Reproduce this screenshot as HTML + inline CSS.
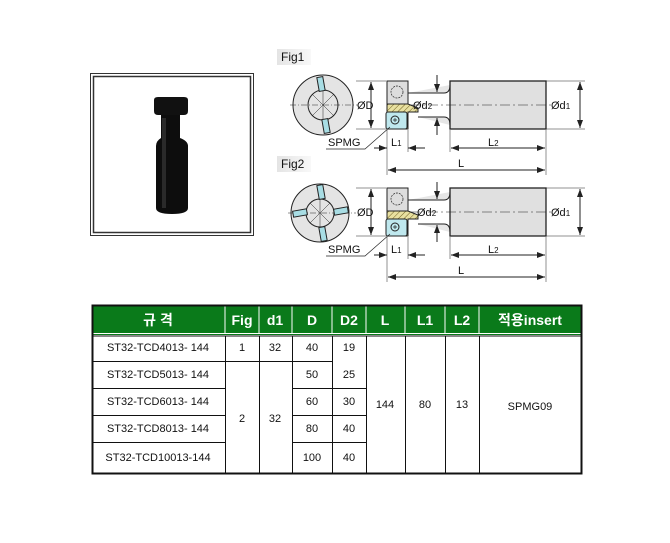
<!DOCTYPE html>
<html><head><meta charset="utf-8"><style>
html,body{margin:0;padding:0;background:#fff;}
svg{display:block;font-family:"Liberation Sans","Noto Sans CJK KR",sans-serif;}
</style></head><body>
<svg width="670" height="543" viewBox="0 0 670 543" xmlns="http://www.w3.org/2000/svg">
<defs>
<linearGradient id="lg" x1="0" x2="1"><stop offset="0" stop-color="#e4e4e4"/><stop offset="1" stop-color="#f8f8f8"/></linearGradient>
<pattern id="hat" width="4" height="4" patternUnits="userSpaceOnUse" patternTransform="rotate(45)"><rect width="4" height="4" fill="#e8e0a0"/><line x1="0" y1="0" x2="0" y2="4" stroke="#706020" stroke-width="1"/></pattern>
<marker id="a" markerWidth="8" markerHeight="6" refX="8" refY="3" orient="auto-start-reverse" markerUnits="userSpaceOnUse"><path d="M0,0 L8,3 L0,6 z" fill="#222"/></marker>
</defs>

<!-- photo box -->
<rect x="90.5" y="73.5" width="163" height="162" fill="#fff" stroke="#333" stroke-width="1"/>
<rect x="93.5" y="76.5" width="157" height="156" fill="#fff" stroke="#333" stroke-width="1.5"/>
<path d="M154,100 Q154,97 158,97 L184,97 Q188,97 188,100 L188,111 Q188,115 184,115 L158,115 Q154,115 154,111 Z" fill="#111"/>
<path d="M161,115 L180,115 L180,138 Q188,141 188,146 L188,208 Q188,214 172,214 Q156,214 156,208 L156,146 Q156,141 161,138 Z" fill="#0d0d0d"/>
<rect x="162" y="118" width="4" height="90" fill="#2a2a2a"/>

<!-- Fig labels -->
<rect x="277" y="49" width="34" height="16" fill="url(#lg)"/>
<text x="281" y="61" font-size="12" fill="#111">Fig1</text>
<rect x="277" y="156" width="34" height="16" fill="url(#lg)"/>
<text x="281" y="168" font-size="12" fill="#111">Fig2</text>

<g id="fig1" stroke="#222" fill="none" stroke-width="1">
 <circle cx="323" cy="105" r="30" fill="#e4e4e4"/>
 <circle cx="323" cy="105" r="15" fill="#e4e4e4"/>
 <line x1="290" y1="105" x2="358" y2="105" stroke-dasharray="6,2,1,2" stroke-width="0.6"/>
 <line x1="323" y1="90" x2="323" y2="120" stroke-width="0.5"/>
 <line x1="312" y1="94" x2="334" y2="116" stroke-width="0.5"/>
 <line x1="334" y1="94" x2="312" y2="116" stroke-width="0.5"/>
 <rect x="318" y="77" width="6" height="14" fill="#a8dde4" transform="rotate(-10 321 84)"/>
 <rect x="323" y="119" width="6" height="14" fill="#a8dde4" transform="rotate(-10 326 126)"/>
 <line x1="356" y1="81" x2="386" y2="81" stroke-width="0.5"/>
 <line x1="356" y1="129" x2="386" y2="129" stroke-width="0.5"/>
 <line x1="371" y1="82" x2="371" y2="128" marker-start="url(#a)" marker-end="url(#a)"/>
 <!-- head -->
 <rect x="387" y="81" width="21" height="23" fill="#ddd"/>
 <circle cx="397" cy="92" r="6" stroke-dasharray="2,1" stroke-width="0.7"/>
 <path d="M387,104 L408,104 L418,108 L418,112 L408,112 L408,129 L387,129 Z" fill="url(#hat)"/>
 <rect x="386" y="112" width="21" height="17" rx="2" fill="#bfe8ee"/>
 <circle cx="395" cy="120" r="4"/>
 <path d="M393,120 h4 M395,118 v4" stroke-width="0.7"/>
 <!-- neck & body -->
 <path d="M408,93 L444,93 Q450,93 450,85 M418,117 L444,117 Q450,117 450,125" fill="#e6e6e6"/>
 <rect x="450" y="81" width="96" height="48" fill="#e0e0e0" stroke-width="1.3"/>
 <line x1="410" y1="105" x2="552" y2="105" stroke-dasharray="10,3,2,3" stroke-width="0.6"/>
 <line x1="437" y1="75" x2="437" y2="92" marker-end="url(#a)"/>
 <line x1="437" y1="135" x2="437" y2="118" marker-end="url(#a)"/>
 <line x1="546" y1="81" x2="585" y2="81" stroke-width="0.5"/>
 <line x1="546" y1="129" x2="585" y2="129" stroke-width="0.5"/>
 <line x1="580" y1="82" x2="580" y2="128" marker-start="url(#a)" marker-end="url(#a)"/>
 <!-- dims -->
 <line x1="387" y1="130" x2="387" y2="175" stroke-width="0.5"/>
 <line x1="408" y1="130" x2="408" y2="152" stroke-width="0.5"/>
 <line x1="450" y1="130" x2="450" y2="152" stroke-width="0.5"/>
 <line x1="546" y1="130" x2="546" y2="175" stroke-width="0.5"/>
 <line x1="374" y1="148" x2="387" y2="148" marker-end="url(#a)"/>
 <line x1="425" y1="148" x2="408" y2="148" marker-end="url(#a)"/>
 <line x1="451" y1="148" x2="545" y2="148" marker-start="url(#a)" marker-end="url(#a)"/>
 <line x1="388" y1="170" x2="545" y2="170" marker-start="url(#a)" marker-end="url(#a)"/>
 <path d="M326,149 L365,149 L390,127" stroke-width="0.7"/>
</g>
<g font-size="11" fill="#111">
 <text x="357" y="109">ØD</text>
 <text x="413" y="109" font-size="11">Ød<tspan font-size="8">2</tspan></text>
 <text x="551" y="109">Ød<tspan font-size="8">1</tspan></text>
 <text x="328" y="146">SPMG</text>
 <text x="391" y="146">L<tspan font-size="8">1</tspan></text>
 <text x="488" y="146">L<tspan font-size="8">2</tspan></text>
 <text x="458" y="167">L</text>
</g>

<g id="fig2" stroke="#222" fill="none" stroke-width="1">
 <circle cx="320" cy="213" r="29" fill="#e4e4e4"/>
 <circle cx="320" cy="213" r="14" fill="#e4e4e4"/>
 <line x1="288" y1="213" x2="356" y2="213" stroke-dasharray="6,2,1,2" stroke-width="0.6"/>
 <line x1="320" y1="199" x2="320" y2="227" stroke-width="0.5"/>
 <line x1="310" y1="203" x2="330" y2="223" stroke-width="0.5"/>
 <line x1="330" y1="203" x2="310" y2="223" stroke-width="0.5"/>
 <rect x="318" y="185" width="6" height="14" fill="#a8dde4" transform="rotate(-10 321 192)"/>
 <rect x="320" y="227" width="6" height="14" fill="#a8dde4" transform="rotate(-10 323 234)"/>
 <rect x="293" y="210" width="14" height="6" fill="#a8dde4" transform="rotate(-10 300 213)"/>
 <rect x="334" y="208" width="14" height="6" fill="#a8dde4" transform="rotate(-10 341 211)"/>
 <line x1="356" y1="188" x2="386" y2="188" stroke-width="0.5"/>
 <line x1="356" y1="236" x2="386" y2="236" stroke-width="0.5"/>
 <line x1="371" y1="189" x2="371" y2="235" marker-start="url(#a)" marker-end="url(#a)"/>
 <rect x="387" y="188" width="21" height="23" fill="#ddd"/>
 <circle cx="397" cy="199" r="6" stroke-dasharray="2,1" stroke-width="0.7"/>
 <path d="M387,211 L408,211 L418,215 L418,219 L408,219 L408,236 L387,236 Z" fill="url(#hat)"/>
 <rect x="386" y="219" width="21" height="17" rx="2" fill="#bfe8ee"/>
 <circle cx="395" cy="227" r="4"/>
 <path d="M393,227 h4 M395,225 v4" stroke-width="0.7"/>
 <path d="M408,200 L444,200 Q450,200 450,192 M418,224 L444,224 Q450,224 450,232" fill="#e6e6e6"/>
 <rect x="450" y="188" width="96" height="48" fill="#e0e0e0" stroke-width="1.3"/>
 <line x1="410" y1="212" x2="552" y2="212" stroke-dasharray="10,3,2,3" stroke-width="0.6"/>
 <line x1="437" y1="182" x2="437" y2="199" marker-end="url(#a)"/>
 <line x1="437" y1="242" x2="437" y2="225" marker-end="url(#a)"/>
 <line x1="546" y1="188" x2="585" y2="188" stroke-width="0.5"/>
 <line x1="546" y1="236" x2="585" y2="236" stroke-width="0.5"/>
 <line x1="580" y1="189" x2="580" y2="235" marker-start="url(#a)" marker-end="url(#a)"/>
 <line x1="387" y1="237" x2="387" y2="282" stroke-width="0.5"/>
 <line x1="408" y1="237" x2="408" y2="259" stroke-width="0.5"/>
 <line x1="450" y1="237" x2="450" y2="259" stroke-width="0.5"/>
 <line x1="546" y1="237" x2="546" y2="282" stroke-width="0.5"/>
 <line x1="374" y1="255" x2="387" y2="255" marker-end="url(#a)"/>
 <line x1="425" y1="255" x2="408" y2="255" marker-end="url(#a)"/>
 <line x1="451" y1="255" x2="545" y2="255" marker-start="url(#a)" marker-end="url(#a)"/>
 <line x1="388" y1="277" x2="545" y2="277" marker-start="url(#a)" marker-end="url(#a)"/>
 <path d="M326,256 L365,256 L390,234" stroke-width="0.7"/>
</g>
<g font-size="11" fill="#111">
 <text x="357" y="216">ØD</text>
 <text x="417" y="216">Ød<tspan font-size="8">2</tspan></text>
 <text x="551" y="216">Ød<tspan font-size="8">1</tspan></text>
 <text x="328" y="253">SPMG</text>
 <text x="391" y="253">L<tspan font-size="8">1</tspan></text>
 <text x="488" y="253">L<tspan font-size="8">2</tspan></text>
 <text x="458" y="274">L</text>
</g>

<!-- table -->
<rect x="92" y="305" width="490" height="28" fill="#0a7a1a"/>
<g stroke="#fff" stroke-width="1">
 <line x1="225" y1="305" x2="225" y2="333"/><line x1="259" y1="305" x2="259" y2="333"/>
 <line x1="292" y1="305" x2="292" y2="333"/><line x1="332" y1="305" x2="332" y2="333"/>
 <line x1="366" y1="305" x2="366" y2="333"/><line x1="405" y1="305" x2="405" y2="333"/>
 <line x1="445" y1="305" x2="445" y2="333"/><line x1="479" y1="305" x2="479" y2="333"/>
</g>
<line x1="92" y1="334.5" x2="582" y2="334.5" stroke="#0a7a1a" stroke-width="1"/>
<g stroke="#111" stroke-width="1" fill="none">
 <rect x="92.5" y="305.5" width="489" height="168" stroke-width="2"/>
 <line x1="92" y1="336" x2="582" y2="336"/>
 <line x1="92" y1="361.5" x2="332" y2="361.5"/>
 <line x1="92" y1="388.5" x2="225" y2="388.5"/><line x1="292" y1="388.5" x2="366" y2="388.5"/>
 <line x1="92" y1="415.5" x2="225" y2="415.5"/><line x1="292" y1="415.5" x2="366" y2="415.5"/>
 <line x1="92" y1="442.5" x2="225" y2="442.5"/><line x1="292" y1="442.5" x2="366" y2="442.5"/>
 <line x1="225.5" y1="336" x2="225.5" y2="473"/><line x1="259.5" y1="336" x2="259.5" y2="473"/>
 <line x1="292.5" y1="336" x2="292.5" y2="473"/><line x1="332.5" y1="336" x2="332.5" y2="473"/>
 <line x1="366.5" y1="336" x2="366.5" y2="473"/><line x1="405.5" y1="336" x2="405.5" y2="473"/>
 <line x1="445.5" y1="336" x2="445.5" y2="473"/><line x1="479.5" y1="336" x2="479.5" y2="473"/>
</g>
<g font-size="14" font-weight="bold" fill="#fff" text-anchor="middle">
 <text x="158" y="325">규 격</text><text x="242" y="325">Fig</text><text x="275" y="325">d1</text>
 <text x="312" y="325">D</text><text x="349" y="325">D2</text><text x="385" y="325">L</text>
 <text x="425" y="325">L1</text><text x="462" y="325">L2</text><text x="530" y="325">적용insert</text>
</g>
<g font-size="11" fill="#111" text-anchor="middle">
 <text x="158" y="351">ST32-TCD4013- 144</text>
 <text x="158" y="378">ST32-TCD5013- 144</text>
 <text x="158" y="405">ST32-TCD6013- 144</text>
 <text x="158" y="432">ST32-TCD8013- 144</text>
 <text x="158" y="461">ST32-TCD10013-144</text>
 <text x="242" y="351">1</text><text x="275" y="351">32</text>
 <text x="312" y="351">40</text><text x="349" y="351">19</text>
 <text x="312" y="378">50</text><text x="349" y="378">25</text>
 <text x="312" y="405">60</text><text x="349" y="405">30</text>
 <text x="312" y="432">80</text><text x="349" y="432">40</text>
 <text x="312" y="461">100</text><text x="349" y="461">40</text>
 <text x="242" y="422">2</text><text x="275" y="422">32</text>
 <text x="385" y="408">144</text><text x="425" y="408">80</text><text x="462" y="408">13</text>
 <text x="530" y="410">SPMG09</text>
</g>
</svg>
</body></html>
